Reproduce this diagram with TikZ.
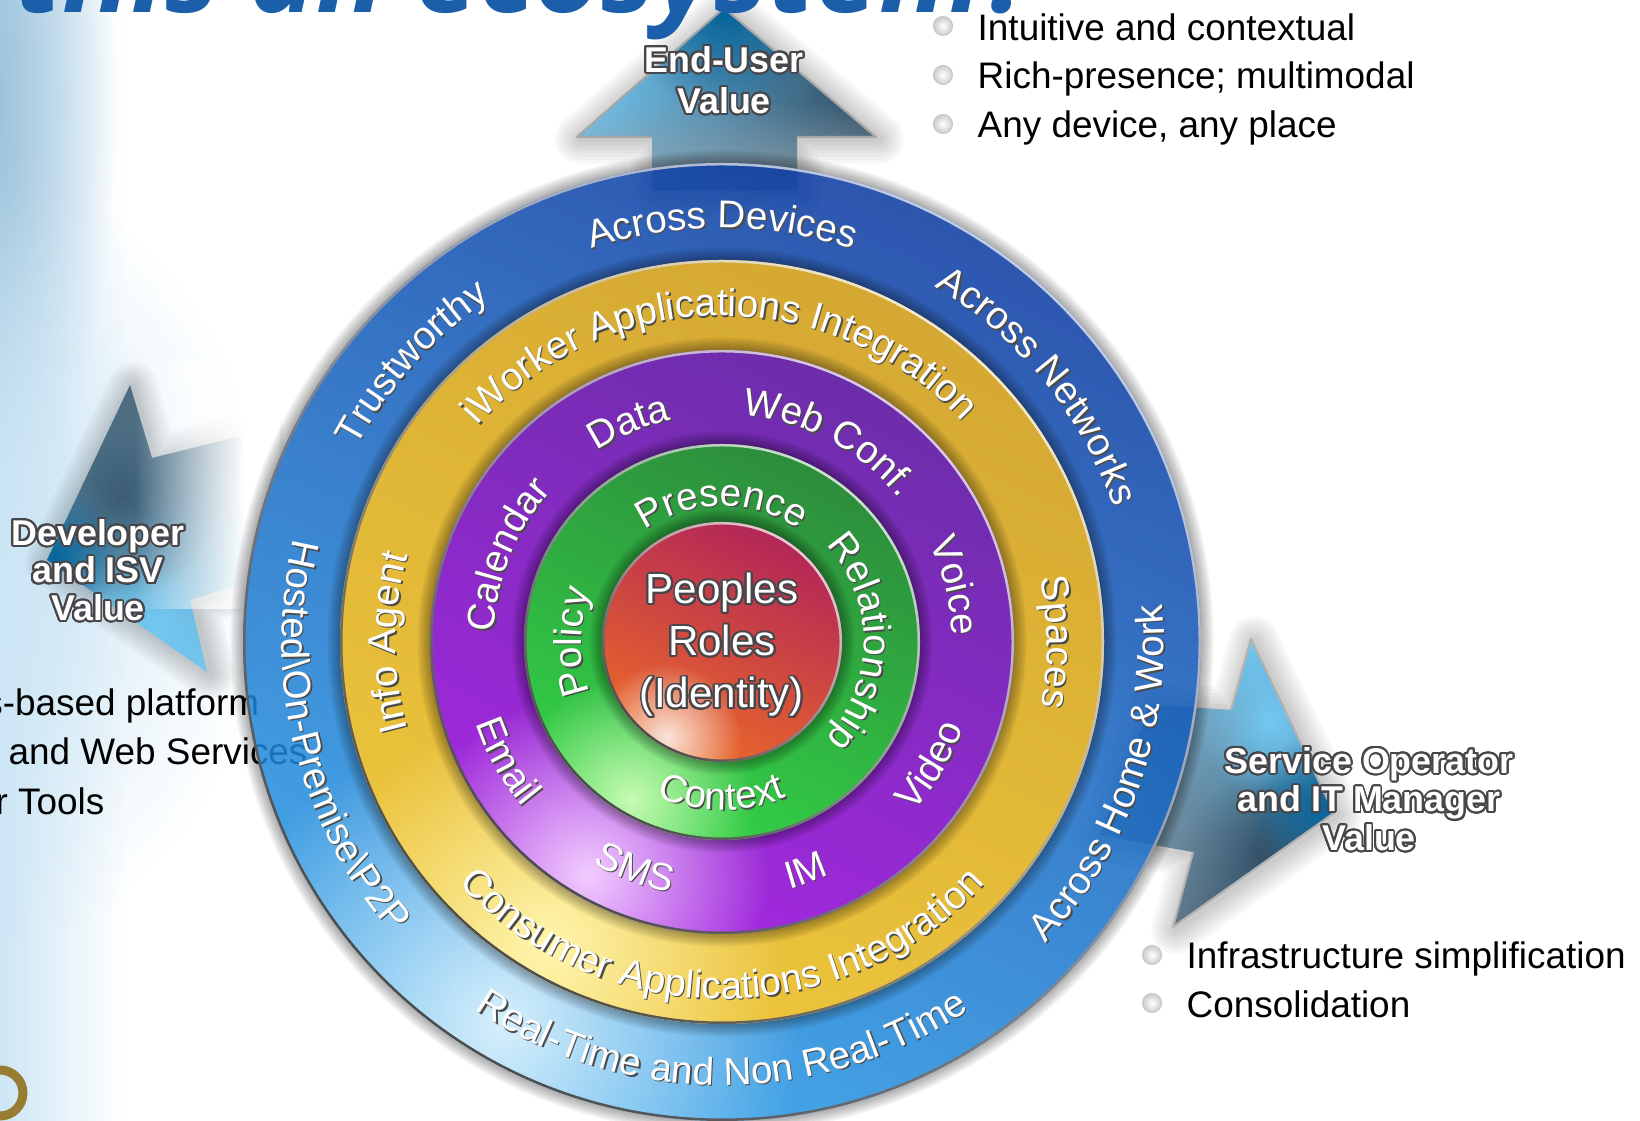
\documentclass[tikz,border=0pt]{standalone}
\usepackage{fontspec}
\usepackage[copies]{contour}
\setmainfont{Liberation Sans}
\newfontfamily\titlefont{Open Sans}
\usetikzlibrary{decorations.text,fadings}
\contourlength{.55pt}
\contournumber{24}
\definecolor{titleblue}{RGB}{27,95,170}
\definecolor{logobrown}{RGB}{150,125,50}
\definecolor{bgdark}{RGB}{150,190,215}
\definecolor{bgpale}{RGB}{205,230,245}
\definecolor{arrowlight}{RGB}{115,200,242}
\definecolor{arrowslate}{RGB}{80,105,122}
\definecolor{arrowdark}{RGB}{48,75,97}
\definecolor{arrowdeep}{RGB}{5,100,155}
\definecolor{arrowgrey}{RGB}{140,158,170}
\definecolor{halo}{RGB}{70,70,75}
\tikzfading[name=fadeopenright, left color=transparent!100, right color=transparent!0]
\tikzfading[name=fadeopenleft, left color=transparent!0, right color=transparent!100]
\tikzfading[name=fadeopendown, top color=transparent!100, bottom color=transparent!0]
\tikzfading[name=softspot, inner color=transparent!0, outer color=transparent!100]
\tikzset{
  listtext/.style={font=\fontsize{10.5}{12}\selectfont, anchor=base west, inner sep=0pt, text=black},
  listball/.style={circle, inner sep=0pt, minimum size=.19cm, draw=black!22, line width=.3pt, shading=radial, inner color=white, outer color=black!20},
  valuetext/.style={font=\fontsize{10.2}{#1}\selectfont\bfseries, align=center, inner sep=0pt},
  arrowedge/.style={draw=black!35, line width=.6pt, line join=round},
}
\newcommand{\glow}[1]{\contour{halo}{\textcolor{white}{#1}}}
\newcommand{\ringfont}{\fontsize{11}{13}\selectfont}
% dir (1 clockwise, -1 counterclockwise), radius, angle, text
\newcommand{\labelarc}[4]{%
  \pgfmathsetmacro\arcfrom{#3+(#1)*85}
  \pgfmathsetmacro\arcto{#3-(#1)*85}
  \foreach \labelcol/\labelsh in {black!70/.014, white/0} {
    \path[xshift=\labelsh cm, yshift=-\labelsh cm, decorate, decoration={text along path, text align=center, text color=\labelcol, text={|\ringfont|#4}}]
      (\arcfrom:#2) arc[start angle=\arcfrom, end angle=\arcto, radius=#2];
  }
}
% radius, top colour, bottom colour, spot colour, opacity
\newcommand{\ringdisc}[5]{%
  \foreach \k in {1,...,9}
    \fill[black, opacity=.04, even odd rule] (0,0) circle (#1+.014*\k) (0,0) circle (#1);
  \shade[top color=#2, bottom color=#3, shading angle=-25, opacity=#5] (0,0) circle (#1);
  \begin{scope}
    \clip (0,0) circle (#1);
    \fill[#4, path fading=softspot] (240:.92*#1) circle (.62*#1);
  \end{scope}
  \shade[even odd rule, top color=white!75!#2, bottom color=black!70, shading angle=-40] (0,0) circle (#1) (0,0) circle (#1-.025);
}
% soft shadow round a closed path
\newcommand{\softshadow}[1]{%
  \foreach \w in {2,4,...,14}
    \draw[black, opacity=.03, line width=\w pt, line join=round, xshift=.03cm, yshift=-.02cm] #1;
}
\begin{document}
\begin{tikzpicture}
  \useasboundingbox (0,0) rectangle (16.4,11.21);
  % backdrop at the left edge
  \shade[left color=bgpale, right color=white] (0,0) rectangle (1.25,11.21);
  \begin{scope}
    \clip (0,0) rectangle (16.4,11.21);
    \fill[bgdark, path fading=softspot] (-.2,10.2) ellipse (1.35 and 4.6);
    \fill[bgpale, path fading=softspot] (0,5.6) ellipse (2.7 and 3.8);
  \end{scope}
  % list at the left, behind the big disc
  \node[listtext, anchor=base east] (leftone) at (2.60,4.05) {s-based platform};
  \node[listtext] (lefttwo) at (.08,3.56) {and Web Services};
  \node[listtext] (leftthree) at (-.05,3.06) {r Tools};
  % arrow up
  \def\arrowup{(7.24,11.13) -- (8.76,9.84) -- (7.97,9.84) -- (7.97,9.3) -- (6.52,9.3) -- (6.52,9.84) -- (5.77,9.84) -- cycle}
  \softshadow{\arrowup}
  \begin{scope}
    \clip \arrowup;
    \shade[left color=arrowlight, right color=arrowdark] (5.77,9.3) rectangle (8.76,11.13);
    \fill[arrowdeep, path fading=softspot] (7.24,11.1) circle (1.0);
    \fill[arrowgrey, path fading=fadeopendown] (5.77,9.3) rectangle (8.76,10.2);
  \end{scope}
  \draw[arrowedge] (6.52,9.84) -- (5.77,9.84) -- (7.24,11.13) -- (8.76,9.84) -- (7.97,9.84);
  % arrow to the left, its shaft fades out before the disc
  \def\arrowleft{(.47,5.61) -- (1.30,7.36) -- (1.52,6.63) -- (2.57,6.89) -- (2.47,5.39) -- (1.90,5.21) -- (2.07,4.49) -- cycle}
  \softshadow{\arrowleft}
  \begin{scope}
    \clip \arrowleft;
    \shade[top color=arrowslate, bottom color=arrowlight] (.47,4.49) rectangle (2.57,7.36);
    \fill[arrowdark, opacity=.75, path fading=softspot] (1.2,6.25) circle (1.0);
    \fill[arrowdeep, path fading=softspot] (.55,5.65) circle (.65);
    \fill[arrowlight, path fading=softspot] (1.6,4.95) circle (.6);
  \end{scope}
  \fill[white, path fading=fadeopenright] (1.35,5.12) rectangle (2.45,7.6);
  \fill[white] (2.44,5.12) rectangle (2.8,7.6);
  % arrow to the right
  \def\arrowright{(13.34,3.08) -- (12.51,4.82) -- (12.31,4.11) -- (11.5,4.16) -- (11.0,2.86) -- (11.93,2.69) -- (11.73,1.94) -- cycle}
  \softshadow{\arrowright}
  \begin{scope}
    \clip \arrowright;
    \shade[top color=arrowlight, bottom color=arrowdark] (11,1.94) rectangle (13.34,4.82);
    \fill[arrowlight, path fading=softspot] (12.7,4.0) circle (.75);
    \fill[arrowdark, opacity=.8, path fading=softspot] (12.6,2.65) circle (.8);
    \fill[arrowdeep, path fading=softspot] (13.2,3.15) circle (.7);
    \fill[arrowgrey, path fading=fadeopenleft] (11,1.94) rectangle (12.6,4.3);
  \end{scope}
  \draw[arrowedge, draw=black!30] (12.31,4.11) -- (12.51,4.82) -- (13.34,3.08) -- (11.73,1.94) -- (11.93,2.69);
  % rings, centre at 7.22,4.79
  \begin{scope}[shift={(7.22,4.79)}]
    \definecolor{bluetop}{RGB}{8,55,160}
    \definecolor{bluelow}{RGB}{37,155,231}
    \definecolor{bluespot}{RGB}{215,240,252}
    \definecolor{yellowtop}{RGB}{212,168,50}
    \definecolor{yellowlow}{RGB}{238,198,60}
    \definecolor{yellowspot}{RGB}{255,246,175}
    \definecolor{purpletop}{RGB}{108,45,170}
    \definecolor{purplelow}{RGB}{165,40,225}
    \definecolor{purplespot}{RGB}{242,205,255}
    \definecolor{greentop}{RGB}{45,140,60}
    \definecolor{greenlow}{RGB}{50,210,70}
    \definecolor{greenspot}{RGB}{200,252,180}
    \definecolor{redtop}{RGB}{178,38,88}
    \definecolor{redlow}{RGB}{235,105,40}
    \definecolor{redspot}{RGB}{250,228,218}
    \ringdisc{4.79}{bluetop}{bluelow}{bluespot}{.85}
    \ringdisc{3.82}{yellowtop}{yellowlow}{yellowspot}{1}
    \ringdisc{2.92}{purpletop}{purplelow}{purplespot}{1}
    \ringdisc{1.98}{greentop}{greenlow}{greenspot}{1}
    \ringdisc{1.20}{redtop}{redlow}{redspot}{1}
    % blue ring
    \labelarc{1}{4.14}{90}{Across Devices}
    \labelarc{1}{4.14}{39}{Across Networks}
    \labelarc{-1}{4.42}{-19}{Across Home {\&} Work}
    \labelarc{-1}{4.43}{-90}{Real-Time and Non Real-Time}
    \labelarc{-1}{4.40}{194}{Hosted{\textbackslash}On-Premise{\textbackslash}P2P}
    \labelarc{1}{4.14}{138}{Trustworthy}
    % yellow ring
    \labelarc{1}{3.26}{90.5}{iWorker Applications Integration}
    \labelarc{1}{3.25}{0}{Spaces}
    \labelarc{-1}{3.57}{-90}{Consumer Applications Integration}
    \labelarc{1}{3.26}{180}{Info Agent}
    % purple ring
    \labelarc{1}{2.28}{113}{Data}
    \labelarc{1}{2.28}{62}{Web Conf.}
    \labelarc{1}{2.30}{13.6}{Voice}
    \labelarc{1}{2.28}{158}{Calendar}
    \labelarc{-1}{2.59}{209}{Email}
    \labelarc{-1}{2.56}{249}{SMS}
    \labelarc{-1}{2.56}{290}{IM}
    \labelarc{-1}{2.56}{-30.6}{Video}
    % green ring
    \labelarc{1}{1.36}{90}{Presence}
    \labelarc{1}{1.42}{0}{Relationship}
    \labelarc{-1}{1.68}{-90}{Context}
    \labelarc{1}{1.41}{180}{Policy}
  \end{scope}
  \node[font=\fontsize{12}{14.8}\selectfont, align=center, inner sep=0pt] (peoples) at (7.22,4.75) {\glow{Peoples}\\\glow{Roles}\\\glow{(Identity)}};
  \node[valuetext=11.7] (enduser) at (7.24,10.40) {\glow{End-User}\\\glow{Value}};
  \node[valuetext=10.7] (developer) at (.98,5.50) {\glow{Developer}\\\glow{and ISV}\\\glow{Value}};
  \node[valuetext=11] (operator) at (13.69,3.21) {\glow{Service Operator}\\\glow{and IT Manager}\\\glow{Value}};
  % lists at the right
  \node[listball] (ballone) at (9.43,10.95) {};
  \node[listball] (balltwo) at (9.43,10.46) {};
  \node[listball] (ballthree) at (9.43,9.97) {};
  \node[listtext] (itemone) at (9.77,10.80) {Intuitive and contextual};
  \node[listtext] (itemtwo) at (9.77,10.32) {Rich-presence; multimodal};
  \node[listtext] (itemthree) at (9.77,9.83) {Any device, any place};
  \node[listball] (ballfour) at (11.52,1.66) {};
  \node[listball] (ballfive) at (11.52,1.18) {};
  \node[listtext] (itemfour) at (11.86,1.52) {Infrastructure simplification};
  \node[listtext] (itemfive) at (11.86,1.03) {Consolidation};
  % title cut by the top edge, logo cut by the corner
  \node[font=\titlefont\fontsize{32.5}{35}\selectfont\bfseries\itshape, text=titleblue, anchor=base west, inner sep=0pt] (headline) at (.15,11.08) {this an ecosystem?};
  \draw[logobrown, line width=.09cm] (0,.28) circle (.23);
\end{tikzpicture}
\end{document}
